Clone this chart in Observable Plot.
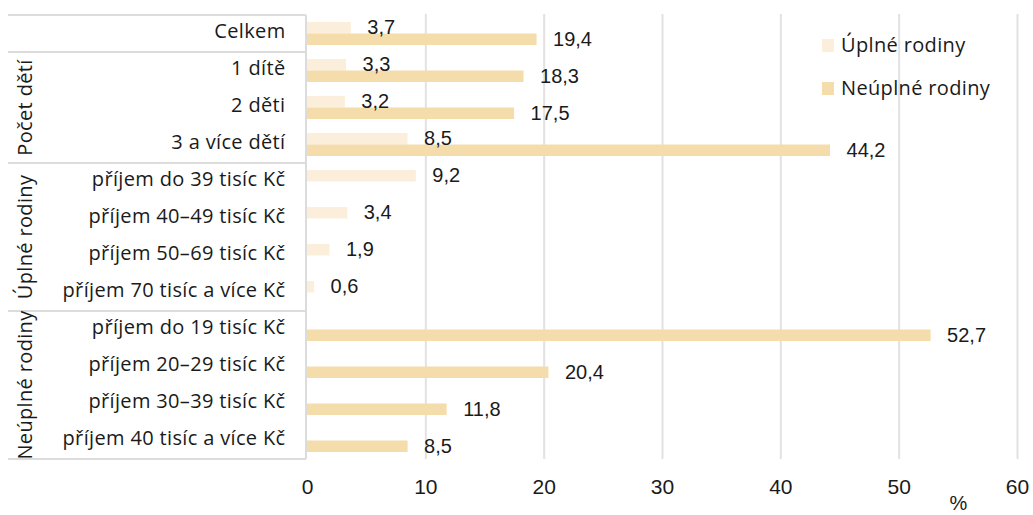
<!DOCTYPE html>
<html>
<head>
<meta charset="utf-8">
<script src="https://cdn.jsdelivr.net/npm/d3@7"></script>
<script src="https://cdn.jsdelivr.net/npm/@observablehq/plot@0.6"></script>
<style>
  html, body { margin: 0; padding: 0; background: #fff; }
  #wrap { position: relative; width: 1033px; height: 515px; font-family: "Open Sans", "Noto Sans", sans-serif; color: #1a1a1a; }
  #legend { position: absolute; left: 822px; top: 33px; font-size: 20px; letter-spacing: 0.35px; line-height: 24px; }
  #legend .item { display: flex; align-items: center; height: 24px; margin-bottom: 19px; }
  #legend .sw { width: 12px; height: 13px; margin-right: 7px; }
  svg [aria-label^="x-axis"] text { font-family: "Liberation Sans Narrow", "Liberation Sans", sans-serif; font-size: 21px; fill: #1a1a1a; }
  svg .catlab text { letter-spacing: 0.35px; }
</style>
</head>
<body>
<div id="wrap"></div>
<script>
const categories = [
  "Celkem", "1 dítě", "2 děti", "3 a více dětí",
  "příjem do 39 tisíc Kč", "příjem 40–49 tisíc Kč", "příjem 50–69 tisíc Kč", "příjem 70 tisíc a více Kč",
  "příjem do 19 tisíc Kč", "příjem 20–29 tisíc Kč", "příjem 30–39 tisíc Kč", "příjem 40 tisíc a více Kč"
];
const uplne   = [3.7, 3.3, 3.2, 8.5, 9.2, 3.4, 1.9, 0.6, null, null, null, null];
const neuplne = [19.4, 18.3, 17.5, 44.2, null, null, null, null, 52.7, 20.4, 11.8, 8.5];
const series = ["Úplné rodiny", "Neúplné rodiny"];
const colors = ["#fbefdb", "#f5dcab"];
const groupLabels = ["", "Počet dětí", "Úplné rodiny", "Neúplné rodiny"];
const groupStarts = [0, 1, 4, 8];
const groupEnds = [0, 3, 7, 11];
const xTicks = [0, 10, 20, 30, 40, 50, 60];
const unitLabel = "%";

const rowsU = categories.map((c, i) => ({cat: c, value: uplne[i]})).filter(d => d.value != null);
const rowsN = categories.map((c, i) => ({cat: c, value: neuplne[i]})).filter(d => d.value != null);
const fmt = v => v.toFixed(1).replace(".", ",");
const labelFont = "'Open Sans', 'Noto Sans', sans-serif";

const plot = Plot.plot({
  width: 1033,
  height: 515,
  marginLeft: 307,
  marginRight: 16,
  marginTop: 14,
  marginBottom: 56,
  style: {fontFamily: labelFont, color: "#1a1a1a", background: "transparent"},
  x: {domain: [0, 60], ticks: xTicks, tickSize: 0, tickPadding: 20, label: null, tickFormat: d => String(d)},
  y: {domain: categories, padding: 0, axis: null},
  marks: [
    Plot.ruleX(xTicks.slice(1), {stroke: "#e2e2e2", strokeWidth: 2}),
    Plot.barX(rowsU, {x: "value", y: "cat", fill: colors[0], insetTop: 7, insetBottom: 18.5}),
    Plot.barX(rowsN, {x: "value", y: "cat", fill: colors[1], insetTop: 18.5, insetBottom: 7}),
    Plot.text(rowsU, {x: "value", y: "cat", text: d => fmt(d.value), dx: 16, dy: -6, textAnchor: "start",
      fontFamily: "'Liberation Sans', Arial, sans-serif", fontSize: 20, fill: "#1a1a1a"}),
    Plot.text(rowsN, {x: "value", y: "cat", text: d => fmt(d.value), dx: 16, dy: 6, textAnchor: "start",
      fontFamily: "'Liberation Sans', Arial, sans-serif", fontSize: 20, fill: "#1a1a1a"}),
    Plot.text(categories, {y: d => d, text: d => d, frameAnchor: "left", textAnchor: "end", dx: -22, dy: -2,
      fontFamily: labelFont, fontSize: 20, fill: "#1a1a1a", className: "catlab"}),
    Plot.text([unitLabel], {x: 55, text: d => d, frameAnchor: "bottom", dy: 50,
      fontFamily: "'Liberation Sans Narrow', 'Liberation Sans', sans-serif", fontSize: 20, fill: "#1a1a1a"})
  ]
});

// Left grouping box drawn from the plot's own y scale
const y = plot.scale("y");
const bw = y.bandwidth;
const svg = d3.select(plot);
const boxLeft = 8, boxRight = 306;
const g = svg.append("g").attr("aria-label", "group box");
const lineYs = groupStarts.map(i => y.apply(categories[i])).concat([y.apply(categories[categories.length - 1]) + bw]);
g.selectAll("line.h").data(lineYs).join("line")
  .attr("x1", boxLeft).attr("x2", boxRight).attr("y1", d => d).attr("y2", d => d)
  .attr("stroke", "#dcdcdc").attr("stroke-width", 2);
g.append("line").attr("x1", boxRight).attr("x2", boxRight)
  .attr("y1", lineYs[0]).attr("y2", lineYs[lineYs.length - 1])
  .attr("stroke", "#dcdcdc").attr("stroke-width", 2);
groupLabels.forEach((lab, k) => {
  if (!lab) return;
  const cy = (y.apply(categories[groupStarts[k]]) + y.apply(categories[groupEnds[k]]) + bw) / 2;
  g.append("text")
    .attr("transform", `translate(24,${cy}) rotate(-90)`)
    .attr("text-anchor", "middle").attr("dominant-baseline", "central")
    .attr("font-family", labelFont).attr("letter-spacing", 0.35)
    .attr("font-size", 20).attr("fill", "#1a1a1a")
    .text(lab);
});

const wrap = document.getElementById("wrap");
wrap.appendChild(plot);
const legend = document.createElement("div");
legend.id = "legend";
series.forEach((s, i) => {
  const item = document.createElement("div");
  item.className = "item";
  const sw = document.createElement("span");
  sw.className = "sw";
  sw.style.background = colors[i];
  const t = document.createElement("span");
  t.textContent = s;
  item.appendChild(sw); item.appendChild(t);
  legend.appendChild(item);
});
wrap.appendChild(legend);
</script>
</body>
</html>
